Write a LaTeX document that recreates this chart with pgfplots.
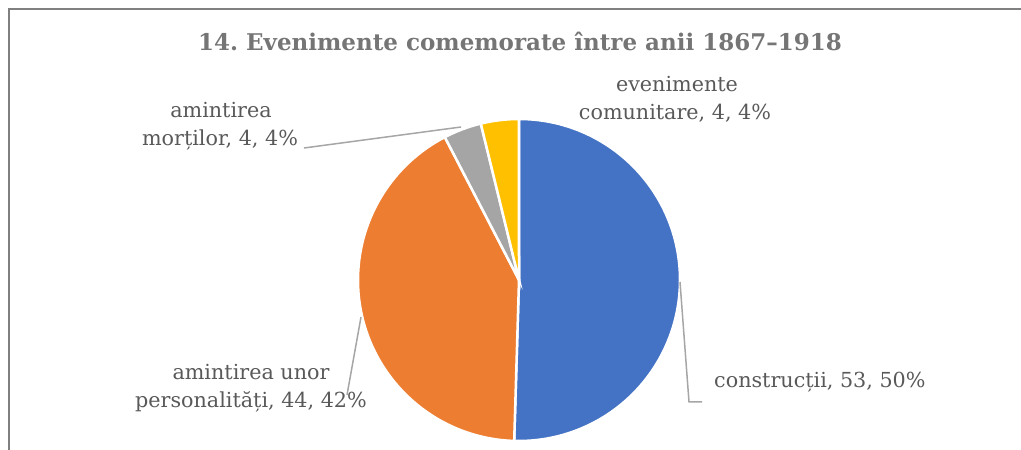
\documentclass[border=0pt]{standalone}
\usepackage{pgfplots}
\pgfplotsset{compat=1.18}
\usepackage{fontspec}
\setmainfont{DejaVu Serif}
\frenchspacing
\definecolor{pieblue}{HTML}{4472C4}
\definecolor{pieorange}{HTML}{ED7D31}
\definecolor{piegray}{HTML}{A5A5A5}
\definecolor{pieyellow}{HTML}{FFC000}
\definecolor{txt}{HTML}{595959}
\definecolor{ttl}{HTML}{757575}
\definecolor{lead}{HTML}{A6A6A6}
\definecolor{frame}{HTML}{808080}
\begin{document}
\begin{tikzpicture}
% values: construcții 53, amintirea unor personalități 44, amintirea morților 4, evenimente comunitare 4
\pgfmathsetmacro\tot{53+44+4+4}
\pgfmathsetmacro\aA{90}
\pgfmathsetmacro\aB{\aA-53/\tot*360}
\pgfmathsetmacro\aC{\aB-44/\tot*360}
\pgfmathsetmacro\aD{\aC-4/\tot*360}
\pgfmathsetmacro\aE{\aD-4/\tot*360}
\begin{axis}[name=ax, width=1021pt, height=450pt, scale only axis,
  xmin=0, xmax=1021, ymin=0, ymax=450, hide axis, clip=false]
\fill[pieblue, draw=white, line width=2.5pt] (axis cs:519,170) -- ++(\aA:161pt) arc[start angle=\aA, end angle=\aB, radius=161pt] -- cycle;
\fill[pieorange, draw=white, line width=2.5pt] (axis cs:519,170) -- ++(\aB:161pt) arc[start angle=\aB, end angle=\aC, radius=161pt] -- cycle;
\fill[piegray, draw=white, line width=2.5pt] (axis cs:519,170) -- ++(\aC:161pt) arc[start angle=\aC, end angle=\aD, radius=161pt] -- cycle;
\fill[pieyellow, draw=white, line width=2.5pt] (axis cs:519,170) -- ++(\aD:161pt) arc[start angle=\aD, end angle=\aE, radius=161pt] -- cycle;
% frame
\draw[frame, line width=2pt] (axis cs:9,0) -- (axis cs:9,441) -- (axis cs:1021,441);
% leader lines
\draw[lead, line width=1.5pt] (axis cs:304,302) -- (axis cs:461,323);
\draw[lead, line width=1.5pt] (axis cs:361,133) -- (axis cs:347,55);
\draw[lead, line width=1.5pt] (axis cs:680,168) -- (axis cs:689,48) -- (axis cs:702,48);
% title
\node[anchor=base, text=ttl, font=\fontsize{23}{28}\selectfont\bfseries] at (axis cs:520,399) {14. Evenimente comemorate între anii 1867–1918};
% labels
\begin{scope}[every node/.style={text=txt, font=\fontsize{20.7}{27}\selectfont}]
\node[anchor=base] at (axis cs:677,358) {evenimente};
\node[anchor=base] at (axis cs:675,330) {comunitare, 4, 4\%};
\node[anchor=base] at (axis cs:221,332) {amintirea};
\node[anchor=base] at (axis cs:220,304) {morților, 4, 4\%};
\node[anchor=base] at (axis cs:251,70) {amintirea unor};
\node[anchor=base] at (axis cs:251,42) {personalități, 44, 42\%};
\node[anchor=base west, inner sep=0pt] at (axis cs:714,62) {construcții, 53, 50\%};
\end{scope}
\end{axis}
\pgfresetboundingbox
\path (ax.south west) rectangle (ax.north east);
\end{tikzpicture}
\end{document}
